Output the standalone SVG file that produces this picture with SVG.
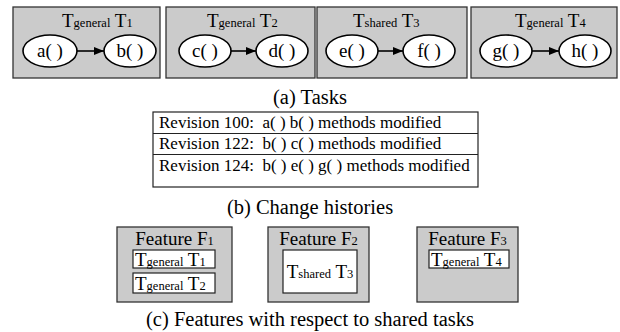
<svg xmlns="http://www.w3.org/2000/svg" width="620" height="332" viewBox="0 0 620 332" font-family="'Liberation Serif', 'Times New Roman', serif">
<defs>
<marker id="arr" viewBox="0 0 10 10" refX="10" refY="5" markerWidth="10" markerHeight="10" markerUnits="userSpaceOnUse" orient="auto"><path d="M0,1 L10,5 L0,9 Z" fill="#000"/></marker>
<style>
text{font-family:'Liberation Serif','Times New Roman',serif;fill:#000}
.box{fill:#cbcbcb;stroke:#333;stroke-width:1.3}
.ell{fill:#fff;stroke:#000;stroke-width:1.6}
.wb{fill:#fff;stroke:#222;stroke-width:1.2}
.big{font-size:19px}
.sm{font-size:12.5px}
.lbl{font-size:19px;text-anchor:middle}
.cap{font-size:20.5px;text-anchor:middle}
.row{font-size:17px}
.edge{stroke:#000;stroke-width:1.6;fill:none;marker-end:url(#arr)}
</style>
</defs>
<g id="task1">
<rect class="box" x="13" y="7" width="147" height="71"/>
<text x="62" y="27" class="big">T<tspan class="sm">general</tspan> T<tspan class="sm">1</tspan></text>
<ellipse class="ell" cx="50" cy="51" rx="27" ry="16"/>
<text x="50" y="57" class="lbl">a( )</text>
<ellipse class="ell" cx="130" cy="51" rx="26" ry="16"/>
<text x="130" y="57" class="lbl">b( )</text>
</g>
<g id="task2">
<rect class="box" x="166" y="7" width="149" height="71"/>
<text x="207" y="27" class="big">T<tspan class="sm">general</tspan> T<tspan class="sm">2</tspan></text>
<ellipse class="ell" cx="205" cy="51" rx="26" ry="16"/>
<text x="205" y="57" class="lbl">c( )</text>
<ellipse class="ell" cx="282" cy="51" rx="26" ry="16"/>
<text x="282" y="57" class="lbl">d( )</text>
</g>
<g id="task3">
<rect class="box" x="317" y="7" width="150" height="71"/>
<text x="353" y="27" class="big">T<tspan class="sm">shared</tspan> T<tspan class="sm">3</tspan></text>
<ellipse class="ell" cx="352" cy="51" rx="26" ry="16"/>
<text x="352" y="57" class="lbl">e( )</text>
<ellipse class="ell" cx="429" cy="51" rx="26" ry="16"/>
<text x="429" y="57" class="lbl">f( )</text>
</g>
<g id="task4">
<rect class="box" x="471" y="7" width="146" height="71"/>
<text x="515" y="27" class="big">T<tspan class="sm">general</tspan> T<tspan class="sm">4</tspan></text>
<ellipse class="ell" cx="506" cy="51" rx="26" ry="16"/>
<text x="506" y="57" class="lbl">g( )</text>
<ellipse class="ell" cx="585" cy="51" rx="26" ry="16"/>
<text x="585" y="57" class="lbl">h( )</text>
</g>
<g id="connectors">
<line class="edge" x1="77" y1="51" x2="104" y2="51"/>
<line class="edge" x1="231" y1="51" x2="256" y2="51"/>
<line class="edge" x1="378" y1="51" x2="403" y2="51"/>
<line class="edge" x1="532" y1="51" x2="559" y2="51"/>
</g>
<text x="310" y="104" class="cap">(a) Tasks</text>
<g id="history">
<rect x="153" y="112" width="325" height="75" fill="#fff" stroke="#222" stroke-width="1.2"/>
<line x1="153" y1="133.5" x2="478" y2="133.5" stroke="#222" stroke-width="1.2"/>
<line x1="153" y1="154.5" x2="478" y2="154.5" stroke="#222" stroke-width="1.2"/>
<text x="159" y="128" class="row" xml:space="preserve">Revision 100:  a( ) b( ) methods modified</text>
<text x="159" y="149" class="row" xml:space="preserve">Revision 122:  b( ) c( ) methods modified</text>
<text x="159" y="171" class="row" xml:space="preserve">Revision 124:  b( ) e( ) g( ) methods modified</text>
</g>
<text x="310" y="214" class="cap">(b) Change histories</text>
<g id="feature1">
<rect class="box" x="117" y="227" width="115" height="75"/>
<text x="174.5" y="245" class="lbl">Feature F<tspan class="sm">1</tspan></text>
<rect class="wb" x="133" y="250" width="82" height="18"/>
<text x="135" y="266" class="big">T<tspan class="sm">general</tspan> T<tspan class="sm">1</tspan></text>
<rect class="wb" x="133" y="273" width="82" height="20"/>
<text x="135" y="290" class="big">T<tspan class="sm">general</tspan> T<tspan class="sm">2</tspan></text>
</g>
<g id="feature2">
<rect class="box" x="268" y="227" width="101" height="75"/>
<text x="318.5" y="245" class="lbl">Feature F<tspan class="sm">2</tspan></text>
<rect class="wb" x="283" y="250" width="74" height="43"/>
<text x="320" y="278" class="lbl">T<tspan class="sm">shared</tspan> T<tspan class="sm">3</tspan></text>
</g>
<g id="feature3">
<rect class="box" x="417" y="227" width="101" height="75"/>
<text x="467.5" y="245" class="lbl">Feature F<tspan class="sm">3</tspan></text>
<rect class="wb" x="429" y="250" width="80" height="18"/>
<text x="431" y="266" class="big">T<tspan class="sm">general</tspan> T<tspan class="sm">4</tspan></text>
</g>
<text x="310" y="326" class="cap">(c) Features with respect to shared tasks</text>
</svg>
